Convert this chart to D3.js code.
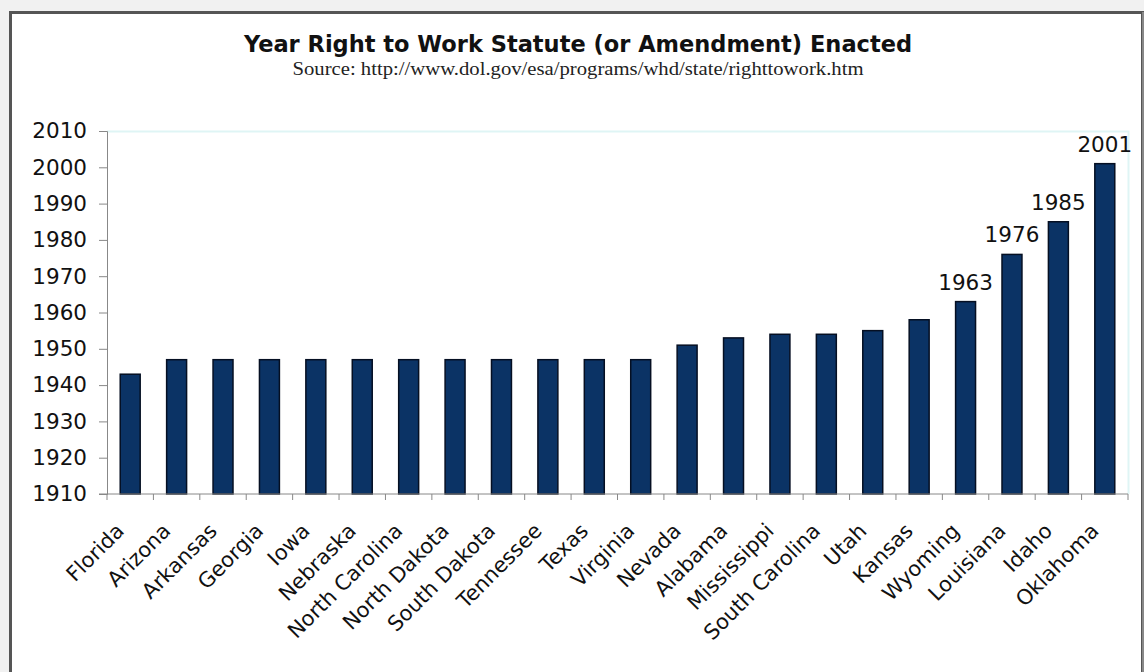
<!DOCTYPE html>
<html>
<head>
<meta charset="utf-8">
<script src="https://cdn.jsdelivr.net/npm/d3@7"></script>
<style>
body {margin: 0; background: #f1f1f1;}
svg {display: block;}
</style>
</head>
<body>
<svg width="1144" height="672"></svg>
<script>
var states = ['Florida', 'Arizona', 'Arkansas', 'Georgia', 'Iowa', 'Nebraska',
    'North Carolina', 'North Dakota', 'South Dakota', 'Tennessee', 'Texas',
    'Virginia', 'Nevada', 'Alabama', 'Mississippi', 'South Carolina', 'Utah',
    'Kansas', 'Wyoming', 'Louisiana', 'Idaho', 'Oklahoma'];
var years = [1943, 1947, 1947, 1947, 1947, 1947, 1947, 1947, 1947, 1947, 1947,
    1947, 1951, 1953, 1954, 1954, 1955, 1958, 1963, 1976, 1985, 2001];
var labelled = ['Wyoming', 'Louisiana', 'Idaho', 'Oklahoma'];
var yTicks = d3.range(1910, 2011, 10);

var svg = d3.select('svg');
var FONT = 'DejaVu Sans, Verdana, sans-serif';

// frame
svg.append('rect')
    .attr('x', 10.5).attr('y', 12.5)
    .attr('width', 1132).attr('height', 680)
    .style('fill', 'white')
    .style('stroke', '#555')
    .style('stroke-width', 3);
svg.append('line')
    .attr('x1', 1143).attr('x2', 1143).attr('y1', 12).attr('y2', 672)
    .style('stroke', '#bbb');

// titles
svg.append('text')
    .attr('x', 578).attr('y', 52)
    .attr('text-anchor', 'middle')
    .style('font-family', FONT)
    .style('font-weight', 'bold')
    .style('font-size', '22.5px')
    .style('fill', '#111')
    .text('Year Right to Work Statute (or Amendment) Enacted');
svg.append('text')
    .attr('x', 578).attr('y', 75)
    .attr('text-anchor', 'middle')
    .attr('textLength', 571)
    .attr('lengthAdjust', 'spacingAndGlyphs')
    .style('font-family', 'Liberation Serif, Times New Roman, serif')
    .style('font-size', '18px')
    .style('fill', '#222')
    .text('Source: http://www.dol.gov/esa/programs/whd/state/righttowork.htm');

var left = 107, right = 1128, plotTop = 131, bottom = 494;

var x = d3.scaleBand()
    .domain(states)
    .range([left, right])
    .paddingInner(0.57)
    .paddingOuter(0.285);
var y = d3.scaleLinear()
    .domain([1910, 2010])
    .range([bottom, plotTop]);

// plot area border (light)
svg.append('path')
    .attr('d', 'M' + left + ',' + (plotTop + 0.5) + 'H' + (right + 0.5) + 'V' + bottom)
    .style('fill', 'none')
    .style('stroke', '#dff5f5')
    .style('stroke-width', 2);

// bars
svg.append('g')
    .selectAll('rect')
    .data(states)
    .enter()
    .append('rect')
    .attr('x', function(d) {return x(d);})
    .attr('width', x.bandwidth())
    .attr('y', function(d, i) {return y(years[i]);})
    .attr('height', function(d, i) {return bottom - y(years[i]);})
    .style('fill', '#0b3365')
    .style('stroke', '#050f22')
    .style('stroke-width', 1.5);

// value labels
svg.append('g')
    .selectAll('text')
    .data(states.filter(function(d) {return labelled.indexOf(d) >= 0;}))
    .enter()
    .append('text')
    .attr('x', function(d) {return x(d) + x.bandwidth() / 2;})
    .attr('y', function(d) {return y(years[states.indexOf(d)]) - 12;})
    .attr('text-anchor', 'middle')
    .style('font-family', FONT)
    .style('font-size', '21.5px')
    .style('fill', '#111')
    .text(function(d) {return years[states.indexOf(d)];});

// y axis
var yAxis = svg.append('g')
    .attr('transform', 'translate(' + left + ',0)')
    .call(d3.axisLeft(y).tickValues(yTicks).tickFormat(d3.format('d')).tickSize(8).tickPadding(12));
yAxis.select('.domain').style('stroke', '#888');
yAxis.selectAll('.tick line').style('stroke', '#888');
yAxis.selectAll('text')
    .style('font-family', FONT)
    .style('font-size', '21.5px')
    .style('fill', '#111');

// x axis
var xAxis = svg.append('g')
    .attr('transform', 'translate(0,' + bottom + ')');
xAxis.append('line')
    .attr('x1', left - 8).attr('x2', right)
    .style('stroke', '#888');
xAxis.selectAll('line.tk')
    .data(d3.range(states.length + 1))
    .enter()
    .append('line')
    .attr('class', 'tk')
    .attr('x1', function(i) {return left + i * x.step();})
    .attr('x2', function(i) {return left + i * x.step();})
    .attr('y1', 0).attr('y2', 6)
    .style('stroke', '#888');
xAxis.selectAll('text')
    .data(states)
    .enter()
    .append('text')
    .attr('transform', function(d) {
        return 'translate(' + (x(d) + x.bandwidth() / 2 - 10) + ',33) rotate(-45)';
    })
    .attr('text-anchor', 'end')
    .attr('dy', '0.35em')
    .style('font-family', FONT)
    .style('font-size', '21px')
    .style('fill', '#111')
    .text(function(d) {return d;});
</script>
</body>
</html>
